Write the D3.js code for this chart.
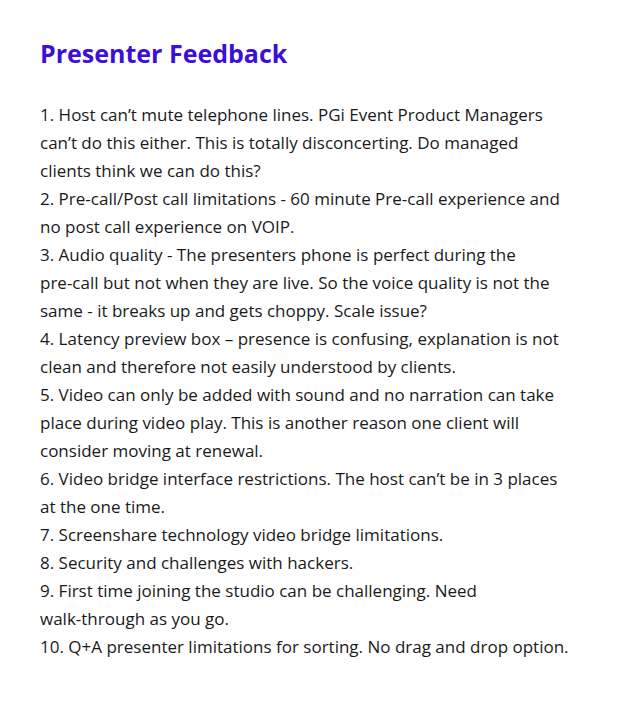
<!DOCTYPE html>
<html><head><meta charset="utf-8">
<script src="https://cdn.jsdelivr.net/npm/d3@7"></script>
<style>body{margin:0;background:#fff}</style>
</head><body>
<script>
const title = "Presenter Feedback";
const lines = [
"1. Host can’t mute telephone lines. PGi Event Product Managers",
"can’t do this either. This is totally disconcerting. Do managed",
"clients think we can do this?",
"2. Pre-call/Post call limitations - 60 minute Pre-call experience and",
"no post call experience on VOIP.",
"3. Audio quality - The presenters phone is perfect during the",
"pre-call but not when they are live. So the voice quality is not the",
"same - it breaks up and gets choppy. Scale issue?",
"4. Latency preview box – presence is confusing, explanation is not",
"clean and therefore not easily understood by clients.",
"5. Video can only be added with sound and no narration can take",
"place during video play. This is another reason one client will",
"consider moving at renewal.",
"6. Video bridge interface restrictions. The host can’t be in 3 places",
"at the one time.",
"7. Screenshare technology video bridge limitations.",
"8. Security and challenges with hackers.",
"9. First time joining the studio can be challenging. Need",
"walk-through as you go.",
"10. Q+A presenter limitations for sorting. No drag and drop option."
];
const svg = d3.select("body").append("svg").attr("width",620).attr("height",720);
svg.append("text").attr("x",40).attr("y",63).text(title)
  .attr("font-family","Open Sans, sans-serif").attr("font-weight",700)
  .attr("font-size",25).attr("fill","#3b0fd4");
const y = d3.scaleLinear().domain([0,lines.length-1]).range([121,653]);
svg.selectAll("text.l").data(lines).join("text").attr("class","l")
  .attr("x",40).attr("y",(d,i)=>y(i)).text(d=>d)
  .attr("font-family","Open Sans, sans-serif").attr("font-size",17)
  .attr("fill","#1a1a1a");
</script>
</body></html>
